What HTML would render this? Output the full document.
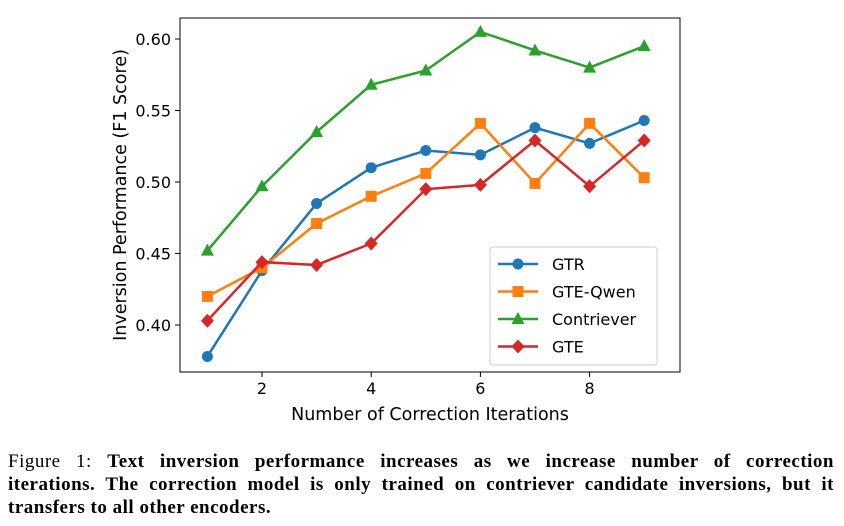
<!DOCTYPE html>
<html><head><meta charset="utf-8"><style>
body{margin:0;width:844px;height:526px;background:#fff;overflow:hidden}
svg text{font-family:"DejaVu Sans","Liberation Sans",sans-serif}
.cap{position:absolute;left:8px;top:450px;width:826px;font-family:"Liberation Serif",serif;font-size:19px;line-height:23px;color:#000;letter-spacing:0.5px}
.cap div{text-align:justify;text-align-last:justify;white-space:nowrap}
.cap div.last{text-align-last:left}
</style></head><body>
<svg id="chart" width="844" height="440" style="position:absolute;left:0;top:0"></svg>
<div class="cap">
<div style="white-space:normal">Figure 1: <b>Text inversion performance increases as we increase number of correction</b></div>
<div style="white-space:normal"><b>iterations. The correction model is only trained on contriever candidate inversions, but it</b></div>
<div class="last"><b>transfers to all other encoders.</b></div>
</div>
<script>
const iterations=[1,2,3,4,5,6,7,8,9];
const gtr=[0.378,0.438,0.485,0.510,0.522,0.519,0.538,0.527,0.543];
const gteQwen=[0.420,0.440,0.471,0.490,0.506,0.541,0.499,0.541,0.503];
const contriever=[0.452,0.497,0.535,0.568,0.578,0.605,0.592,0.580,0.595];
const gte=[0.403,0.444,0.442,0.457,0.495,0.498,0.529,0.497,0.529];
const xTicks=[2,4,6,8];
const yTicks=[0.40,0.45,0.50,0.55,0.60];
const NS="http://www.w3.org/2000/svg";
const svg=document.getElementById('chart');
const L=180,R=680,T=18,B=372;
const x=v=>262+(v-2)*54.6;
const y=v=>39+(0.60-v)*1430;
function el(t,a,p){const e=document.createElementNS(NS,t);for(const k in a)e.setAttribute(k,a[k]);(p||svg).appendChild(e);return e;}
const frame=el('rect',{x:L,y:T,width:R-L,height:B-T,fill:'none',stroke:'#000','stroke-width':1});


xTicks.forEach(v=>{
 el('line',{x1:x(v),x2:x(v),y1:B,y2:B+5,stroke:'#000'});
 const t=el('text',{x:x(v),y:B+22,'text-anchor':'middle','font-size':16});t.textContent=v;
 
 
});
yTicks.forEach(v=>{
 el('line',{x1:L-5,x2:L,y1:y(v),y2:y(v),stroke:'#000'});
 const t=el('text',{x:L-9,y:y(v)+6,'text-anchor':'end','font-size':16});t.textContent=v.toFixed(2);
 
 
});
const xt=el('text',{x:(L+R)/2,y:420,'text-anchor':'middle','font-size':17.5});xt.textContent='Number of Correction Iterations';


const yt=el('text',{x:0,y:0,'text-anchor':'middle','font-size':17.5,transform:'translate(126,195) rotate(-90)'});yt.textContent='Inversion Performance (F1 Score)';


function marker(shape,cx,cy,c,g){
 if(shape==='o')return el('circle',{cx,cy,r:5.5,fill:c},g);
 if(shape==='s')return el('rect',{x:cx-5.5,y:cy-5.5,width:11,height:11,fill:c},g);
 if(shape==='^')return el('polygon',{points:`${cx},${cy-7} ${cx-6.5},${cy+5} ${cx+6.5},${cy+5}`,fill:c},g);
 return el('polygon',{points:`${cx},${cy-7} ${cx+6.5},${cy} ${cx},${cy+7} ${cx-6.5},${cy}`,fill:c},g);
}
const series=[['GTR',gtr,'#1f77b4','o'],['GTE-Qwen',gteQwen,'#ff7f0e','s'],['Contriever',contriever,'#2ca02c','^'],['GTE',gte,'#d62728','D']];
series.forEach(([n,d,c,m])=>{
 const g=el('g',{});
 
 
 el('polyline',{points:d.map((v,i)=>x(iterations[i])+','+y(v)).join(' '),fill:'none',stroke:c,'stroke-width':2.5},g);
 d.forEach((v,i)=>{const p=marker(m,x(iterations[i]),y(v),c,g);
  
  });
});
const lg=el('g',{});


el('rect',{x:490,y:247,width:167,height:118,rx:3,fill:'#fff',stroke:'#ccc'},lg);
series.forEach(([n,d,c,m],i)=>{
 const cy=264+i*27.5;
 el('line',{x1:498,x2:538,y1:cy,y2:cy,stroke:c,'stroke-width':2.5},lg);
 marker(m,518,cy,c,lg);
 const t=el('text',{x:552,y:cy+6,'font-size':16},lg);t.textContent=n;
 
 
});
</script>
</body></html>
